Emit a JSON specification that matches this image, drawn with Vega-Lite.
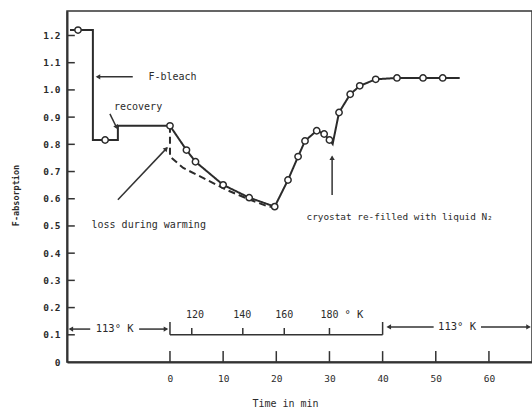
{
  "$schema": "https://vega.github.io/schema/vega-lite/v6.json",
  "width": 465,
  "height": 351,
  "autosize": "none",
  "padding": {"left": 67, "top": 11, "right": 0, "bottom": 50},
  "background": "white",
  "config": {
    "view": {"stroke": "#333", "strokeWidth": 1.5},
    "font": "DejaVu Sans Mono",
    "axis": {"labelFont": "DejaVu Sans Mono", "titleFont": "DejaVu Sans Mono", "labelColor": "#2b2b2b", "titleColor": "#2b2b2b", "domainColor": "#333", "domainWidth": 2, "ticks": false, "grid": false}
  },
  "datasets": {
    "curve": [
      {"s": "solid", "o": 1, "t": -18.8, "v": 1.22, "c": 0},
      {"s": "solid", "o": 2, "t": -17.3, "v": 1.22, "c": 1},
      {"s": "solid", "o": 3, "t": -14.5, "v": 1.22, "c": 0},
      {"s": "solid", "o": 4, "t": -14.5, "v": 0.816, "c": 0},
      {"s": "solid", "o": 5, "t": -12.2, "v": 0.816, "c": 1},
      {"s": "solid", "o": 6, "t": -9.8, "v": 0.816, "c": 0},
      {"s": "solid", "o": 7, "t": -9.8, "v": 0.868, "c": 0},
      {"s": "solid", "o": 8, "t": 0, "v": 0.868, "c": 1},
      {"s": "solid", "o": 9, "t": 3.1, "v": 0.779, "c": 1},
      {"s": "solid", "o": 10, "t": 4.8, "v": 0.736, "c": 1},
      {"s": "solid", "o": 11, "t": 10.0, "v": 0.651, "c": 1},
      {"s": "solid", "o": 12, "t": 14.9, "v": 0.604, "c": 1},
      {"s": "solid", "o": 13, "t": 19.7, "v": 0.571, "c": 1},
      {"s": "solid", "o": 14, "t": 22.2, "v": 0.669, "c": 1},
      {"s": "solid", "o": 15, "t": 24.1, "v": 0.755, "c": 1},
      {"s": "solid", "o": 16, "t": 25.4, "v": 0.8125, "c": 1},
      {"s": "solid", "o": 17, "t": 27.6, "v": 0.85, "c": 1},
      {"s": "solid", "o": 18, "t": 29.0, "v": 0.838, "c": 1},
      {"s": "solid", "o": 19, "t": 30.0, "v": 0.816, "c": 1},
      {"s": "solid", "o": 20, "t": 30.6, "v": 0.801, "c": 0},
      {"s": "solid", "o": 21, "t": 31.8, "v": 0.917, "c": 1},
      {"s": "solid", "o": 22, "t": 33.9, "v": 0.984, "c": 1},
      {"s": "solid", "o": 23, "t": 35.7, "v": 1.015, "c": 1},
      {"s": "solid", "o": 24, "t": 38.7, "v": 1.039, "c": 1},
      {"s": "solid", "o": 25, "t": 42.7, "v": 1.044, "c": 1},
      {"s": "solid", "o": 26, "t": 47.6, "v": 1.044, "c": 1},
      {"s": "solid", "o": 27, "t": 51.3, "v": 1.044, "c": 1},
      {"s": "solid", "o": 28, "t": 54.5, "v": 1.044, "c": 0},
      {"s": "dashed", "o": 1, "t": 0, "v": 0.868, "c": 0},
      {"s": "dashed", "o": 2, "t": 0, "v": 0.755, "c": 0},
      {"s": "dashed", "o": 3, "t": 2.5, "v": 0.713, "c": 0},
      {"s": "dashed", "o": 4, "t": 6.3, "v": 0.676, "c": 0},
      {"s": "dashed", "o": 5, "t": 10.7, "v": 0.632, "c": 0},
      {"s": "dashed", "o": 6, "t": 15.1, "v": 0.596, "c": 0},
      {"s": "dashed", "o": 7, "t": 18.5, "v": 0.571, "c": 0},
      {"s": "dashed", "o": 8, "t": 19.7, "v": 0.571, "c": 0}
    ],
    "segs": [
      {"t": -7.0, "v": 1.048, "t2": -13.7, "v2": 1.048},
      {"t": -11.3, "v": 0.912, "t2": -10.0, "v2": 0.86},
      {"t": -9.8, "v": 0.596, "t2": -0.56, "v2": 0.787},
      {"t": 30.5, "v": 0.614, "t2": 30.5, "v2": 0.754},
      {"t": 0, "v": 0.1, "t2": 40, "v2": 0.1},
      {"t": 0, "v": 0.1, "t2": 0, "v2": 0.147},
      {"t": 40, "v": 0.1, "t2": 40, "v2": 0.147},
      {"t": 4.1, "v": 0.1, "t2": 4.1, "v2": 0.125},
      {"t": 13.7, "v": 0.1, "t2": 13.7, "v2": 0.125},
      {"t": 21.5, "v": 0.1, "t2": 21.5, "v2": 0.125},
      {"t": 30, "v": 0.1, "t2": 30, "v2": 0.125},
      {"t": -18.8, "v": 0.121, "t2": -15.0, "v2": 0.121},
      {"t": -5.8, "v": 0.121, "t2": -0.6, "v2": 0.121},
      {"t": 41, "v": 0.129, "t2": 49.6, "v2": 0.129},
      {"t": 58.5, "v": 0.129, "t2": 67.6, "v2": 0.129},
      {"t": 0, "v": 0, "t2": 0, "v2": 0.04},
      {"t": 10, "v": 0, "t2": 10, "v2": 0.04},
      {"t": 20, "v": 0, "t2": 20, "v2": 0.04},
      {"t": 30, "v": 0, "t2": 30, "v2": 0.04},
      {"t": 40, "v": 0, "t2": 40, "v2": 0.04},
      {"t": 50, "v": 0, "t2": 50, "v2": 0.04},
      {"t": 60, "v": 0, "t2": 60, "v2": 0.04},
      {"t": -19.37, "v": 0.1, "t2": -17.9, "v2": 0.1},
      {"t": -19.37, "v": 0.2, "t2": -17.9, "v2": 0.2},
      {"t": -19.37, "v": 0.3, "t2": -17.9, "v2": 0.3},
      {"t": -19.37, "v": 0.4, "t2": -17.9, "v2": 0.4},
      {"t": -19.37, "v": 0.5, "t2": -17.9, "v2": 0.5},
      {"t": -19.37, "v": 0.6, "t2": -17.9, "v2": 0.6},
      {"t": -19.37, "v": 0.7, "t2": -17.9, "v2": 0.7},
      {"t": -19.37, "v": 0.8, "t2": -17.9, "v2": 0.8},
      {"t": -19.37, "v": 0.9, "t2": -17.9, "v2": 0.9},
      {"t": -19.37, "v": 1.0, "t2": -17.9, "v2": 1.0},
      {"t": -19.37, "v": 1.1, "t2": -17.9, "v2": 1.1},
      {"t": -19.37, "v": 1.2, "t2": -17.9, "v2": 1.2}
    ],
    "heads": [
      {"t": -13.4, "v": 1.048, "a": 270},
      {"t": -10.1, "v": 0.865, "a": 153},
      {"t": -0.8, "v": 0.782, "a": 43},
      {"t": 30.5, "v": 0.748, "a": 0},
      {"t": -18.5, "v": 0.121, "a": 270},
      {"t": -0.9, "v": 0.121, "a": 90},
      {"t": 41.3, "v": 0.129, "a": 270},
      {"t": 67.3, "v": 0.129, "a": 90}
    ],
    "labels": [
      {"t": 0.47, "v": 1.048, "label": "F-bleach", "fs": 10},
      {"t": -6.0, "v": 0.9375, "label": "recovery", "fs": 10},
      {"t": -4.0, "v": 0.504, "label": "loss during warming", "fs": 10},
      {"t": 43.2, "v": 0.533, "label": "cryostat re-filled with liquid N₂", "fs": 9.4},
      {"t": -10.4, "v": 0.121, "label": "113° K", "fs": 10.5},
      {"t": 54.0, "v": 0.129, "label": "113° K", "fs": 10.5},
      {"t": 4.7, "v": 0.173, "label": "120", "fs": 10},
      {"t": 13.6, "v": 0.173, "label": "140", "fs": 10},
      {"t": 21.5, "v": 0.173, "label": "160", "fs": 10},
      {"t": 30.0, "v": 0.173, "label": "180", "fs": 10},
      {"t": 34.6, "v": 0.173, "label": "° K", "fs": 10.5}
    ]
  },
  "layer": [
    {
      "data": {"name": "curve"},
      "mark": {"type": "line", "color": "#2b2b2b", "strokeWidth": 2},
      "encoding": {
        "x": {"field": "t", "type": "quantitative", "scale": {"domain": [-19.37, 68.1], "nice": false, "zero": false},
          "axis": {"values": [0, 10, 20, 30, 40, 50, 60], "labelOverlap": false, "labelPadding": 11, "labelFontSize": 9.5, "title": "Time in min", "titleFontSize": 10, "titleFontWeight": "normal", "titleX": 218, "titleY": 41, "titleAlign": "center", "titleBaseline": "middle"}},
        "y": {"field": "v", "type": "quantitative", "scale": {"domain": [0, 1.29], "nice": false},
          "axis": {"values": [0, 0.1, 0.2, 0.3, 0.4, 0.5, 0.6, 0.7, 0.8, 0.9, 1.0, 1.1, 1.2], "tickCount": 13, "format": ".1f", "labelOverlap": false, "labelSeparation": 0, "labelExpr": "datum.label == '0.0' ? '0' : datum.label", "labelPadding": 7, "labelFontSize": 9.5, "labelFontWeight": "bold", "title": "F-absorption", "titleFontSize": 8.5, "titleFontWeight": "bold", "titleX": -52, "titleY": 184, "titleAlign": "center", "titleBaseline": "middle"}},
        "order": {"field": "o", "type": "quantitative"},
        "strokeDash": {"field": "s", "type": "nominal", "scale": {"domain": ["solid", "dashed"], "range": [[1, 0], [7, 4]]}, "legend": null}
      }
    },
    {
      "data": {"name": "curve"},
      "transform": [{"filter": "datum.c == 1"}],
      "mark": {"type": "point", "filled": true, "fill": "white", "stroke": "#2b2b2b", "strokeWidth": 1.5, "size": 40, "opacity": 1},
      "encoding": {
        "x": {"field": "t", "type": "quantitative"},
        "y": {"field": "v", "type": "quantitative"}
      }
    },
    {
      "data": {"name": "segs"},
      "mark": {"type": "rule", "color": "#333", "strokeWidth": 1.5},
      "encoding": {
        "x": {"field": "t", "type": "quantitative"},
        "y": {"field": "v", "type": "quantitative"},
        "x2": {"field": "t2"},
        "y2": {"field": "v2"}
      }
    },
    {
      "data": {"name": "heads"},
      "mark": {"type": "point", "shape": "triangle", "filled": true, "color": "#333", "size": 28, "opacity": 1},
      "encoding": {
        "x": {"field": "t", "type": "quantitative"},
        "y": {"field": "v", "type": "quantitative"},
        "angle": {"field": "a", "type": "quantitative", "scale": null}
      }
    },
    {
      "data": {"name": "labels"},
      "mark": {"type": "text", "color": "#2b2b2b", "font": "DejaVu Sans Mono", "align": "center", "baseline": "middle"},
      "encoding": {
        "x": {"field": "t", "type": "quantitative"},
        "y": {"field": "v", "type": "quantitative"},
        "text": {"field": "label"},
        "size": {"field": "fs", "type": "quantitative", "scale": null}
      }
    }
  ]
}
